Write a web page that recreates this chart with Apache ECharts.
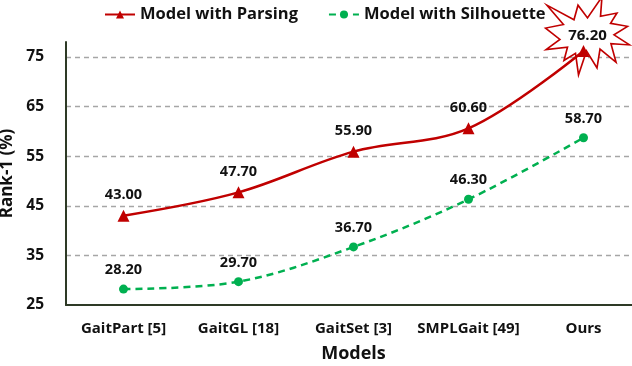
<!DOCTYPE html>
<html>
<head>
<meta charset="utf-8">
<script src="https://cdn.jsdelivr.net/npm/echarts@6/dist/echarts.min.js"></script>
<style>
  html, body { margin: 0; padding: 0; background: #fff; }
  #main { width: 632px; height: 366px; }
</style>
</head>
<body>
<div id="main"></div>
<script>
// data
var models = ['GaitPart [5]', 'GaitGL [18]', 'GaitSet [3]', 'SMPLGait [49]', 'Ours'];
var parsing = [43.00, 47.70, 55.90, 60.60, 76.20];
var silhouette = [28.20, 29.70, 36.70, 46.30, 58.70];

var FONT = 'Open Sans';
var starPath = 'path://M50,26.9L67.2,0L65.5,24.7L85.1,20.6L77.4,33.9L97.7,37.7L81.5,48.5L100,61.5L77.9,59.9L84,83.8L64.9,66.9L61.3,91.1L48.8,69.2L39.3,100L35.7,72.3L22,81.5L26.2,64.5L0.6,67.5L17.2,54.5L0,39.9L21.4,35.3L1.7,10.6L33.9,29.3L38.7,10.6Z';

var chart = echarts.init(document.getElementById('main'));

var labelStyle = {
    show: true,
    position: 'top',
    distance: 7,
    color: '#111',
    fontFamily: FONT,
    fontWeight: 'bold',
    fontSize: 14.5,
    formatter: function (p) { return p.value.toFixed(2); }
};

var parsingData = parsing.map(function (v, i) {
    if (i === parsing.length - 1) return { value: v, label: { show: false } };
    return v;
});

option = {
    animation: false,
    legend: {
        top: 1,
        left: 99,
        itemWidth: 30,
        itemHeight: 10,
        itemGap: 30,
        textStyle: { fontFamily: FONT, fontWeight: 'bold', fontSize: 16.5, color: '#111' },
        data: ['Model with Parsing', 'Model with Silhouette']
    },
    grid: {
        left: 66,
        right: -9,
        top: 42,
        bottom: 61,
        outerBoundsMode: 'none'
    },
    xAxis: {
        type: 'category',
        data: models,
        boundaryGap: true,
        name: 'Models',
        nameLocation: 'middle',
        nameGap: 40,
        nameTextStyle: { fontFamily: FONT, fontWeight: 'bold', fontSize: 18, color: '#111' },
        axisLine: { lineStyle: { color: '#2e3a26', width: 2 } },
        axisTick: { alignWithLabel: true, length: 5, lineStyle: { color: '#2e3a26', width: 1.5 } },
        axisLabel: { interval: 0, margin: 16, fontFamily: FONT, fontWeight: 'bold', fontSize: 15, color: '#111' }
    },
    yAxis: {
        type: 'value',
        min: 25,
        max: 78,
        interval: 10,
        name: 'Rank-1 (%)',
        nameLocation: 'middle',
        nameGap: 45,
        nameRotate: 90,
        nameTextStyle: { fontFamily: FONT, fontWeight: 'bold', fontSize: 17, color: '#111' },
        axisLine: { show: true, lineStyle: { color: '#2e3a26', width: 2 } },
        axisTick: { show: false },
        axisLabel: {
            margin: 22,
            fontFamily: FONT, fontWeight: 'bold', fontSize: 15.5, color: '#111',
            showMaxLabel: false
        },
        splitLine: {
            show: true,
            showMinLine: false,
            showMaxLine: false,
            lineStyle: { color: '#a6a6a6', type: [5, 4], width: 1.3 }
        }
    },
    series: [
        {
            name: 'Model with Parsing',
            type: 'line',
            data: parsingData,
            smooth: 0.35,
            symbol: 'triangle',
            symbolSize: 12,
            itemStyle: { color: '#c00000' },
            lineStyle: { color: '#c00000', width: 2.5 },
            label: labelStyle,
            markPoint: {
                data: [{ coord: [4, 76.20], value: 76.20 }],
                symbol: starPath,
                symbolSize: [84, 78],
                symbolOffset: [4, -15],
                itemStyle: { color: '#fff', borderColor: '#c00000', borderWidth: 1.6 },
                label: {
                    show: true,
                    position: 'inside',
                    color: '#111',
                    fontFamily: FONT,
                    fontWeight: 'bold',
                    fontSize: 15,
                    formatter: function (p) { return p.value.toFixed(2); }
                },
                z: 1
            },
            z: 3
        },
        {
            name: 'Model with Silhouette',
            type: 'line',
            data: silhouette,
            smooth: 0.35,
            symbol: 'circle',
            symbolSize: 9,
            itemStyle: { color: '#00b050' },
            lineStyle: { color: '#00b050', width: 2.5, type: [7, 5] },
            label: labelStyle,
            z: 3
        }
    ]
};

chart.setOption(option);
</script>
</body>
</html>
